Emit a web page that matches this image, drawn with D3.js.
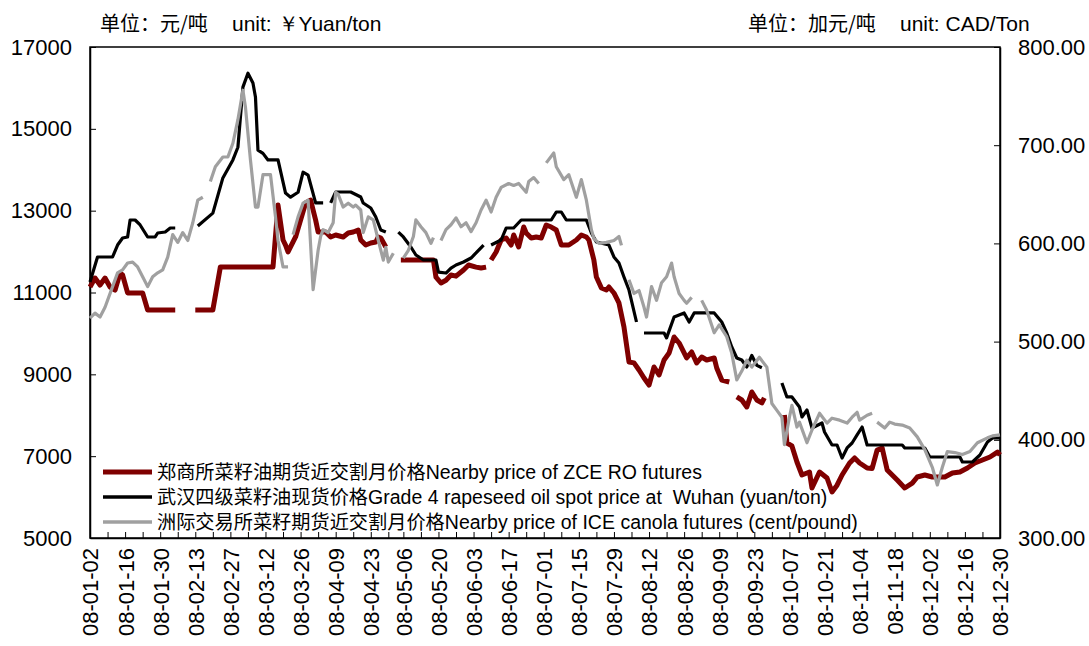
<!DOCTYPE html>
<html>
<head>
<meta charset="utf-8">
<script src="https://cdn.jsdelivr.net/npm/d3@7/dist/d3.min.js"></script>
<style>
  body { margin: 0; background: #fff; }
  text { font-family: Arial, "Liberation Sans", sans-serif; fill: #000; }
  .cjk { font-family: "Noto Sans CJK SC", sans-serif; }
  .legend text { font-family: Arial, "Liberation Sans", "Noto Sans CJK SC", sans-serif; }
</style>
</head>
<body>
<svg id="chart" width="1089" height="646"></svg>
<script>
// x axis labels (every two weeks)
var tickLabels = ["08-01-02","08-01-16","08-01-30","08-02-13","08-02-27","08-03-12","08-03-26",
  "08-04-09","08-04-23","08-05-06","08-05-20","08-06-03","08-06-17","08-07-01","08-07-15",
  "08-07-29","08-08-12","08-08-26","08-09-09","08-09-23","08-10-07","08-10-21","08-11-04",
  "08-11-18","08-12-02","08-12-16","08-12-30"];

var leftTicks = [5000, 7000, 9000, 11000, 13000, 15000, 17000];
var rightTicks = [300, 400, 500, 600, 700, 800];

// ZCE rapeseed oil futures, yuan/ton (null = no data)
var zcePrice = [["01-02",11134],["01-04",11354],["01-06",11183],["01-08",11354],["01-10",11134],["01-12",11061],
  ["01-14",11476],["01-15",11427],["01-17",10989],["01-23",10989],["01-25",10573],["02-05",10573],["02-09",null],
  ["02-13",10573],["02-20",10573],["02-23",11623],["03-15",11623],["03-17",13138],["03-19",12283],["03-20",12160],
  ["03-21",11990],["03-24",12357],["03-28",13187],["03-30",13260],["04-01",12772],["04-02",12479],["04-05",12479],
  ["04-07",12357],["04-09",12405],["04-12",12357],["04-14",12454],["04-16",12479],["04-18",12528],["04-19",12283],
  ["04-21",12161],["04-23",12210],["04-25",12234],["04-26",12357],["04-27",12332],["04-29",12112],["05-02",null],
  ["05-05",11794],["05-18",11794],["05-19",11378],["05-21",11232],["05-23",11300],["05-25",11427],["05-27",11400],
  ["05-30",11550],["06-01",11672],["06-04",11620],["06-06",11598],["06-08",11620],["06-09",null],["06-10",11794],
  ["06-12",11990],["06-14",12283],["06-16",12332],["06-18",12161],["06-19",12405],["06-21",12112],["06-23",12600],
  ["06-24",12454],["06-26",12332],["06-28",12357],["06-30",12332],["07-02",12650],["07-04",12600],["07-06",12528],
  ["07-08",12161],["07-11",12161],["07-14",12283],["07-16",12405],["07-18",12357],["07-19",12283],["07-21",11794],
  ["07-22",11378],["07-24",11110],["07-26",11061],["07-27",11134],["07-29",10988],["07-31",10744],["08-02",10157],
  ["08-04",9302],["08-06",9280],["08-08",9106],["08-10",8910],["08-12",8739],["08-14",9180],["08-16",8984],
  ["08-18",9350],["08-20",9522],["08-22",9913],["08-24",9766],["08-27",9400],["08-29",9546],["08-31",9277],
  ["09-02",9424],["09-04",9350],["09-07",9400],["09-08",9155],["09-10",8860],["09-13",8812],["09-14",null],
  ["09-16",8447],["09-18",8373],["09-20",8202],["09-22",8569],["09-24",8373],["09-26",8300],["09-27",8422],
  ["10-01",null],["10-05",8006],["10-06",7322],["10-08",7250],["10-10",6857],["10-12",6540],["10-15",6613],
  ["10-16",6222],["10-19",6613],["10-22",6466],["10-24",6124],["10-26",6290],["10-28",6540],["10-31",6833],
  ["11-02",6955],["11-04",6833],["11-07",6711],["11-09",6700],["11-11",7150],["11-13",7200],["11-15",6662],
  ["11-17",6540],["11-19",6417],["11-22",6222],["11-25",6340],["11-27",6491],["11-30",6540],["12-03",6491],
  ["12-05",6491],["12-08",6491],["12-11",6589],["12-14",6613],["12-17",6711],["12-20",6833],["12-23",6906],
  ["12-26",6980],["12-29",7100],["12-30",7029]];

// Wuhan grade 4 rapeseed oil spot, yuan/ton
var wuhanPrice = [["01-02",11257],["01-05",11868],["01-11",11868],["01-13",12160],["01-15",12332],["01-17",12357],
  ["01-18",12772],["01-20",12772],["01-22",12650],["01-25",12357],["01-28",12357],["01-29",12454],["02-01",12479],
  ["02-03",12576],["02-05",12576],["02-09",null],["02-14",12625],["02-20",12940],["02-24",13800],["02-28",14240],
  ["03-01",14550],["03-03",16020],["03-05",16360],["03-07",16120],["03-08",15780],["03-09",14480],["03-11",14400],
  ["03-13",14240],["03-17",14240],["03-20",13430],["03-22",13330],["03-25",13450],["03-27",13940],["03-29",13870],
  ["04-01",13190],["04-04",13190],["04-05",null],["04-07",13190],["04-09",13456],["04-15",13456],["04-19",13334],
  ["04-20",13187],["04-23",13065],["04-25",12845],["04-27",12528],["04-29",12478],["05-02",null],["05-04",12478],
  ["05-06",12357],["05-09",12112],["05-11",11917],["05-14",11794],["05-19",11794],["05-20",11500],["05-23",11476],
  ["05-25",11598],["05-27",11672],["05-30",11745],["06-02",11843],["06-04",11966],["06-07",12160],["06-08",null],
  ["06-10",12160],["06-14",12283],["06-16",12576],["06-19",12576],["06-22",12772],["06-30",12772],["07-04",12772],
  ["07-06",12967],["07-08",12967],["07-10",12772],["07-18",12772],["07-20",12454],["07-22",12234],["07-27",12160],
  ["07-29",11870],["07-31",11720],["08-02",11380],["08-04",11060],["08-07",10279],["08-08",null],["08-10",10010],
  ["08-18",10010],["08-19",9890],["08-22",10400],["08-26",10500],["08-28",10279],["08-30",10500],["09-07",10500],
  ["09-10",10279],["09-12",10010],["09-14",9668],["09-16",9400],["09-18",9350],["09-20",9180],["09-22",9460],
  ["09-24",9220],["09-26",9160],["09-30",null],["10-04",8788],["10-06",8447],["10-08",8447],["10-11",8202],
  ["10-12",7958],["10-14",8129],["10-16",7689],["10-20",7811],["10-21",7591],["10-24",7273],["10-26",7273],
  ["10-28",6955],["10-30",7200],["11-01",7322],["11-03",7518],["11-05",7713],["11-07",7273],["11-21",7273],
  ["11-22",7200],["11-30",7200],["12-02",6980],["12-14",6980],["12-15",6857],["12-19",6857],["12-22",7029],
  ["12-25",7346],["12-27",7444],["12-30",7444]];

// ICE canola futures, right axis
var icePrice = [["01-02",524],["01-04",529],["01-06",525],["01-08",535],["01-11",556],["01-13",570],["01-15",573],
  ["01-17",580],["01-19",581],["01-21",576],["01-23",566],["01-25",556],["01-27",566],["01-29",570],["01-31",573],
  ["02-02",586],["02-04",609],["02-06",601],["02-08",611],["02-10",603],["02-12",621],["02-14",644],["02-16",647],
  ["02-17",null],["02-19",663],["02-21",678],["02-24",688],["02-26",688],["02-28",702],["03-01",726],["03-03",756],
  ["03-04",739],["03-06",685],["03-08",637],["03-09",637],["03-11",670],["03-14",670],["03-16",627],["03-17",603],
  ["03-19",576],["03-21",576],["03-22",null],["03-23",609],["03-25",627],["03-27",641],["03-29",644],["03-31",553],
  ["04-02",593],["04-03",607],["04-04",614],["04-06",611],["04-08",621],["04-09",652],["04-10",650],["04-12",637],
  ["04-14",641],["04-16",637],["04-17",639],["04-19",634],["04-20",611],["04-22",627],["04-24",624],["04-26",603],
  ["04-28",583],["04-29",596],["04-30",581],["05-02",590],["05-04",null],["05-06",585],["05-08",593],["05-10",607],
  ["05-11",624],["05-13",617],["05-15",611],["05-17",600],["05-18",606],["05-19",null],["05-21",603],["05-23",614],
  ["05-25",619],["05-27",626],["05-29",617],["05-31",621],["06-02",612],["06-04",621],["06-06",634],["06-08",644],
  ["06-10",632],["06-12",647],["06-14",657],["06-17",661],["06-19",659],["06-21",661],["06-24",652],["06-25",663],
  ["06-27",667],["06-29",661],["06-30",null],["07-02",682],["07-05",692],["07-06",678],["07-09",665],["07-11",670],
  ["07-14",647],["07-16",665],["07-18",644],["07-20",614],["07-21",605],["07-23",600],["07-26",601],["07-29",603],
  ["07-31",607],["08-01",598],["08-02",null],["08-04",563],["08-06",549],["08-08",552],["08-10",535],["08-11",525],
  ["08-13",556],["08-15",542],["08-17",560],["08-19",566],["08-21",580],["08-22",566],["08-24",549],["08-26",542],
  ["08-27",539],["08-29",545],["08-31",null],["09-02",542],["09-04",532],["09-07",509],["09-09",517],["09-12",505],
  ["09-14",488],["09-16",461],["09-18",470],["09-20",481],["09-22",474],["09-25",484],["09-28",474],["09-30",437],
  ["10-02",430],["10-04",423],["10-05",395],["10-07",423],["10-08",435],["10-10",413],["10-11",418],["10-14",397],
  ["10-16",410],["10-19",427],["10-22",417],["10-24",422],["10-27",420],["10-30",417],["11-01",423],["11-03",428],
  ["11-04",420],["11-07",425],["11-09",427],["11-10",null],["11-11",418],["11-14",412],["11-16",418],["11-18",416],
  ["11-21",415],["11-24",412],["11-27",403],["11-30",390],["12-03",372],["12-05",354],["12-07",372],["12-09",388],
  ["12-12",387],["12-15",385],["12-18",388],["12-21",397],["12-25",402],["12-27",404],["12-30",405]];

var legendItems = [
  {cn: "郑商所菜籽油期货近交割月价格", en: "Nearby price of ZCE RO futures", color: "#7f0000", width: 5},
  {cn: "武汉四级菜籽油现货价格", en: "Grade 4 rapeseed oil spot price at  Wuhan (yuan/ton)", color: "#000000", width: 3.5},
  {cn: "洲际交易所菜籽期货近交割月价格", en: "Nearby price of ICE canola futures (cent/pound)", color: "#a0a0a0", width: 3.5}
];

var parseDay = d3.timeParse("%y-%m-%d");
function toDate(md) { return parseDay("08-" + md); }

var margin = {left: 90, right: 1000, top: 47, bottom: 538};
var svg = d3.select("#chart");

var x = d3.scaleTime()
    .domain([toDate("01-02"), toDate("12-30")])
    .range([margin.left, margin.right]);
var yLeft = d3.scaleLinear().domain([5000, 17000]).range([margin.bottom, margin.top]);
var yRight = d3.scaleLinear().domain([300, 800]).range([margin.bottom, margin.top]);

// weekly minor ticks plus the labelled ones
var labelDates = tickLabels.map(function(t) { return parseDay(t); });
var weekDates = [];
labelDates.forEach(function(d, i) {
  weekDates.push(d);
  if (i < labelDates.length - 1) weekDates.push(d3.timeDay.offset(d, 7));
});

// frame
svg.append("rect")
    .attr("x", margin.left).attr("y", margin.top)
    .attr("width", margin.right - margin.left)
    .attr("height", margin.bottom - margin.top)
    .attr("fill", "none").attr("stroke", "#000").attr("stroke-width", 1.5);

// left axis
var gLeft = svg.append("g")
    .attr("transform", "translate(" + margin.left + ",0)")
    .call(d3.axisLeft(yLeft).tickValues(leftTicks).tickSizeInner(-6).tickSizeOuter(0).tickPadding(18).tickFormat(d3.format("d")));
gLeft.selectAll("text").style("font-size", "22px");

// right axis
var gRight = svg.append("g")
    .attr("transform", "translate(" + margin.right + ",0)")
    .call(d3.axisRight(yRight).tickValues(rightTicks).tickSizeInner(-6).tickSizeOuter(0).tickPadding(18).tickFormat(d3.format(".2f")));
gRight.selectAll("text").style("font-size", "22px");

// bottom axis
var gBottom = svg.append("g")
    .attr("transform", "translate(0," + margin.bottom + ")")
    .call(d3.axisBottom(x).tickValues(weekDates).tickSizeInner(-6).tickSizeOuter(0).tickFormat(function(d) {
      return labelDates.some(function(l) { return +l === +d; }) ? d3.timeFormat("%y-%m-%d")(d) : "";
    }));
gBottom.selectAll("text")
    .style("font-size", "22px")
    .attr("text-anchor", "end")
    .attr("transform", "rotate(-90)")
    .attr("x", -10).attr("y", 0).attr("dy", "0.36em");

[gLeft, gRight, gBottom].forEach(function(g) {
  g.select(".domain").attr("stroke", "#000").attr("stroke-width", 1.5);
  g.selectAll(".tick line").attr("stroke", "#000").attr("stroke-width", 1);
});

// series
function drawLine(data, yScale, color, width) {
  var line = d3.line()
      .defined(function(d) { return d[1] != null; })
      .x(function(d) { return x(toDate(d[0])); })
      .y(function(d) { return yScale(d[1]); });
  svg.append("path")
      .datum(data)
      .attr("d", line)
      .attr("fill", "none")
      .attr("stroke", color)
      .attr("stroke-width", width)
      .attr("stroke-linejoin", "round");
}
drawLine(zcePrice, yLeft, legendItems[0].color, 5);
drawLine(wuhanPrice, yLeft, legendItems[1].color, 3.2);
drawLine(icePrice, yRight, legendItems[2].color, 3.2);

// unit headers
svg.append("text").attr("class", "cjk").attr("x", 100).attr("y", 31).style("font-size", "20px").text("单位：元/吨");
svg.append("text").attr("x", 232).attr("y", 31).style("font-size", "21px").text("unit: ￥Yuan/ton");
svg.append("text").attr("class", "cjk").attr("x", 748).attr("y", 31).style("font-size", "20px").text("单位：加元/吨");
svg.append("text").attr("x", 900).attr("y", 31).style("font-size", "21px").text("unit: CAD/Ton");

// legend
var legend = svg.append("g").attr("class", "legend");
legendItems.forEach(function(item, i) {
  var ly = 472 + i * 25;
  legend.append("line")
      .attr("x1", 103).attr("x2", 152).attr("y1", ly).attr("y2", ly)
      .attr("stroke", item.color).attr("stroke-width", item.width);
  var t = legend.append("text").attr("x", 157).attr("y", ly + 7).style("font-size", "19.5px");
  t.append("tspan").style("font-size", "19.2px").text(item.cn);
  t.append("tspan").attr("xml:space", "preserve").text(item.en);
});
</script>
</body>
</html>
